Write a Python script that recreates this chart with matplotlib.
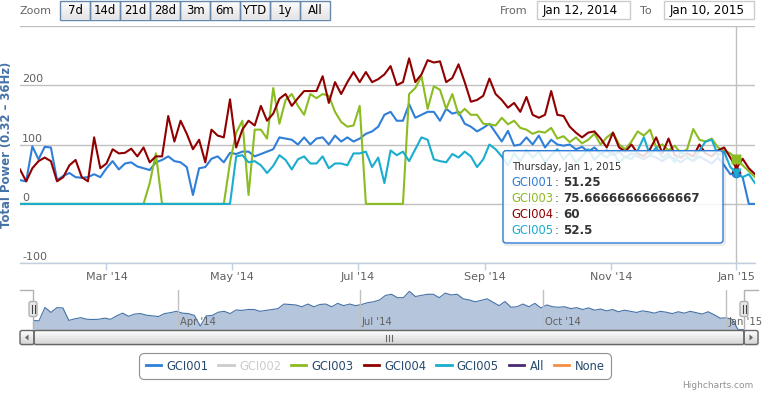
import numpy as np
import pandas as pd
import matplotlib
matplotlib.use('Agg')
import matplotlib.pyplot as plt
import matplotlib.dates as mdates
from matplotlib.patches import FancyBboxPatch, Rectangle, Polygon
from matplotlib.lines import Line2D
from matplotlib.transforms import blended_transform_factory, offset_copy

W, H, DPI = 762, 393, 100

# ---------------- data ----------------
start_date = '2014-01-18'
n_points = 120
step = '3D'

gci001 = [40, 38, 97, 75, 96, 95, 40, 47, 52, 45,
          44, 45, 50, 45, 60, 72, 58, 68, 70, 63,
          60, 57, 70, 74, 80, 72, 70, 62, 15, 60,
          62, 76, 80, 70, 86, 84, 88, 88, 80, 84,
          88, 92, 112, 110, 108, 100, 112, 100, 110, 112,
          100, 115, 105, 112, 105, 110, 118, 122, 130, 150,
          155, 140, 140, 168, 145, 150, 155, 155, 140, 160,
          152, 155, 135, 130, 122, 128, 135, 120, 105, 123,
          98, 100, 112, 100, 115, 95, 108, 100, 98, 100,
          92, 96, 88, 95, 85, 90, 82, 88, 78, 85,
          80, 75, 82, 78, 72, 80, 76, 70, 78, 72,
          80, 74, 68, 78, 65, 50, 51.25, 45, 0, 0]

gci003 = [0, 0, 0, 0, 0, 0, 0, 0, 0, 0,
          0, 0, 0, 0, 0, 0, 0, 0, 0, 0,
          0, 35, 85, 0, 0, 0, 0, 0, 0, 0,
          0, 0, 0, 0, 70, 120, 140, 15, 125, 125,
          110, 195, 135, 175, 185, 165, 150, 185, 178, 185,
          182, 155, 138, 130, 132, 165, 0, 0, 0, 0,
          0, 0, 0, 185, 195, 215, 160, 198, 192, 160,
          185, 150, 160, 150, 150, 135, 134, 132, 145, 134,
          140, 128, 125, 118, 122, 120, 128, 110, 114, 104,
          112, 102, 108, 118, 100, 112, 120, 100, 92, 105,
          122, 115, 125, 95, 100, 90, 98, 85, 92, 126,
          108, 105, 110, 95, 90, 85, 75.66666666666667, 65, 55, 45]

gci004 = [58, 38, 60, 72, 78, 72, 38, 45, 65, 74,
          45, 38, 112, 60, 68, 92, 85, 86, 93, 80,
          95, 70, 80, 80, 148, 105, 140, 118, 92, 108,
          70, 125, 115, 112, 176, 95, 125, 140, 132, 165,
          140, 152, 177, 185, 165, 178, 190, 190, 190, 215,
          170, 205, 185, 205, 222, 205, 222, 205, 210, 218,
          232, 200, 205, 245, 205, 218, 242, 238, 240, 205,
          212, 235, 205, 172, 175, 182, 211, 185, 175, 162,
          170, 155, 180, 150, 145, 150, 190, 150, 148, 130,
          120, 112, 120, 122, 110, 95, 120, 95, 88, 100,
          85, 80, 92, 112, 85, 110, 82, 78, 85, 80,
          100, 85, 80, 90, 95, 78, 60, 76, 60, 50]

gci005 = [0, 0, 0, 0, 0, 0, 0, 0, 0, 0,
          0, 0, 0, 0, 0, 0, 0, 0, 0, 0,
          0, 0, 0, 0, 0, 0, 0, 0, 0, 0,
          0, 0, 0, 0, 0, 80, 82, 70, 72, 65,
          52, 64, 82, 74, 58, 75, 80, 68, 68, 80,
          60, 68, 68, 65, 85, 85, 88, 62, 78, 35,
          90, 82, 88, 72, 92, 112, 108, 75, 72, 70,
          84, 78, 88, 80, 62, 75, 100, 92, 80, 65,
          85, 72, 90, 78, 88, 70, 82, 92, 75, 86,
          70, 80, 92, 74, 85, 78, 88, 70, 80, 75,
          90, 112, 82, 95, 78, 85, 70, 88, 80, 72,
          90, 105, 108, 82, 88, 62, 52.5, 45, 50, 35]

legend_names = ['GCI001', 'GCI002', 'GCI003', 'GCI004', 'GCI005', 'All', 'None']
legend_colors = ['#2f7ed8', '#0d233a', '#8bbc21', '#910000', '#1aadce', '#492970', '#f28f43']
hidden_series = ['GCI002']

x_tick_dates = ['2014-03-01', '2014-05-01', '2014-07-01', '2014-09-01', '2014-11-01', '2015-01-01']
x_tick_labels = ["Mar '14", "May '14", "Jul '14", "Sep '14", "Nov '14", "Jan '15"]
nav_tick_dates = ['2014-04-01', '2014-07-01', '2014-10-01', '2015-01-01']
nav_tick_labels = ["Apr '14", "Jul '14", "Oct '14", "Jan '15"]
y_ticks = [-100, 0, 100, 200, 300]
y_tick_labels = ['-100', '0', '100', '200']
y_title = 'Total Power (0.32 \u2013 36Hz)'
tooltip_date = '2015-01-01'
zoom_buttons = ['7d', '14d', '21d', '28d', '3m', '6m', 'YTD', '1y', 'All']
from_text = 'Jan 12, 2014'
to_text = 'Jan 10, 2015'

# ---------------- figure ----------------
plt.rcParams['font.family'] = ['DejaVu Sans']
dates = pd.date_range(start_date, periods=n_points, freq=step)
xd = mdates.date2num(dates.to_pydatetime())

fig = plt.figure(figsize=(W / DPI, H / DPI), dpi=DPI, facecolor='white')


def fr(x0, y0, x1, y1):
    return [x0 / W, 1 - y1 / H, (x1 - x0) / W, (y1 - y0) / H]


ax = fig.add_axes(fr(20, 25.7, 755, 263.3))
ax.set_zorder(1)
series = [('GCI001', gci001, '#2f7ed8', 'o', 7),
          ('GCI003', gci003, '#8bbc21', 's', 6.5),
          ('GCI004', gci004, '#910000', '^', 7),
          ('GCI005', gci005, '#1aadce', 'v', 7.5)]
for name, vals, col, mk, ms in series:
    ax.plot(xd, vals, color=col, lw=1.5, solid_joinstyle='round', zorder=2)

ax.set_xlim(xd[0], xd[-1])
ax.set_ylim(-100, 300)
ax.set_yticks(y_ticks)
ax.tick_params(axis='y', length=0, labelleft=False)
ax.yaxis.grid(True, color='#C0C0C0', lw=1)
ax.set_axisbelow(True)
for s in ['left', 'right', 'top']:
    ax.spines[s].set_visible(False)
ax.spines['bottom'].set_color('#C0D0E0')
ax.spines['bottom'].set_linewidth(1)
ax.spines['bottom'].set_zorder(3)
xt = mdates.date2num(pd.to_datetime(x_tick_dates).to_pydatetime())
ax.set_xticks(xt)
ax.set_xticklabels(x_tick_labels)
ax.tick_params(axis='x', length=5, width=1, color='#C0D0E0', labelcolor='#606060',
               labelsize=8, pad=1.5)

ytrans = offset_copy(blended_transform_factory(ax.transAxes, ax.transData), fig=fig,
                     x=2, y=3, units='dots')
for v, lab in zip(y_ticks, y_tick_labels):
    ax.text(0, v, lab, transform=ytrans, ha='left', va='baseline', color='#606060', fontsize=8)

tip = int(np.where(dates == pd.Timestamp(tooltip_date))[0][0])
ax.axvline(xd[tip], color='#C0C0C0', lw=1, zorder=1.5)
for name, vals, col, mk, ms in series:
    ax.plot([xd[tip]], [vals[tip]], marker=mk, ms=ms, color=col, mec='none', zorder=5,
            clip_on=False)

# ---------------- navigator ----------------
nav = fig.add_axes(fr(33, 289.5, 744, 329.5))
nav.set_zorder(1)
nav.fill_between(xd, gci001, 0, color='#b5c6dc', lw=0)
nav.plot(xd, gci001, color='#4572A7', lw=0.8)
nav.set_xlim(xd[0], xd[-1])
nav.set_ylim(0, 176)
nt = mdates.date2num(pd.to_datetime(nav_tick_dates).to_pydatetime())
nav.set_xticks(nt)
nav.set_yticks([])
nav.tick_params(axis='x', length=0, labelbottom=False)
nav.xaxis.grid(True, color='#C0C0C0', lw=1)
nav.set_axisbelow(False)
for s in nav.spines.values():
    s.set_visible(False)
ntrans = offset_copy(blended_transform_factory(nav.transData, nav.transAxes), fig=fig,
                     x=2, y=0, units='dots')
for t, lab in zip(nt, nav_tick_labels):
    nav.text(t, 0.19, lab, transform=ntrans, ha='left', va='center', color='#606060',
             fontsize=7.2, zorder=3, clip_on=False)

# ---------------- overlay ----------------
ov = fig.add_axes([0, 0, 1, 1])
ov.set_zorder(3)
ov.patch.set_alpha(0)
ov.axis('off')


def gradient_box(x0, y0, w, h, c0, c1, ec, r=0, lw=1, z=4):
    style = f'round,pad=0,rounding_size={r}' if r else 'square,pad=0'
    p = FancyBboxPatch((x0, y0), w, h, boxstyle=style, fc='none', ec=ec, lw=lw, zorder=z + 0.1)
    ov.add_patch(p)
    a = np.array(matplotlib.colors.to_rgb(c0))
    b = np.array(matplotlib.colors.to_rgb(c1))
    g = np.linspace(0, 1, 32)[:, None, None]
    img = a[None, None, :] * (1 - g) + b[None, None, :] * g
    im = ov.imshow(img, extent=(x0, x0 + w, y0 + h, y0), origin='upper', aspect='auto',
                   zorder=z, interpolation='bilinear')
    clip = FancyBboxPatch((x0, y0), w, h, boxstyle=style, transform=ov.transData)
    im.set_clip_path(clip)


# y axis title
ov.text(7, 145, y_title, rotation=90, ha='center', va='center', fontweight='bold',
        color='#4572A7', fontsize=8.4)

# range selector
ov.text(20, 11, 'Zoom', color='#666666', fontsize=8, va='center', ha='left')
for i, lab in enumerate(zoom_buttons):
    x0 = 60 + 30 * i
    gradient_box(x0, 0.5, 30, 19, '#ffffff', '#e4e4e4', '#6688AA')
    ov.text(x0 + 15, 10.5, lab, ha='center', va='center', fontsize=8.4, color='black', zorder=6)
ov.text(500, 11, 'From', color='#666666', fontsize=8, va='center', ha='left')
ov.add_patch(Rectangle((537.3, 0.7), 92.7, 18.3, fc='white', ec='#CCCCCC', lw=1))
ov.text(543, 10.5, from_text, fontsize=8.6, va='center', ha='left', color='black')
ov.text(640, 11, 'To', color='#666666', fontsize=8, va='center', ha='left')
ov.add_patch(Rectangle((664.3, 0.7), 89.7, 18.3, fc='white', ec='#CCCCCC', lw=1))
ov.text(670, 10.5, to_text, fontsize=8.6, va='center', ha='left', color='black')

# navigator outline + handles
ov.plot([20, 33, 33, 744, 744, 758], [289.5, 289.5, 329.5, 329.5, 289.5, 289.5],
        color='#b2b1b6', lw=1, zorder=4)
for hx in (33, 744):
    ov.add_patch(FancyBboxPatch((hx - 4, 301.5), 8, 15, boxstyle='round,pad=0,rounding_size=2',
                                fc='#ebe7e8', ec='#b2b1b6', lw=1, zorder=5))
    for dx in (-1.5, 1.5):
        ov.plot([hx + dx, hx + dx], [305, 313], color='#444444', lw=0.8, zorder=6)

# scrollbar
ov.add_patch(Rectangle((20, 330.5), 738, 14, fc='#eeeeee', ec='#eeeeee', lw=1, zorder=3.5))
gradient_box(34, 330.5, 710, 14, '#ffffff', '#d6d6d6', '#666666', r=2)
gradient_box(20, 330.5, 14, 14, '#ffffff', '#d6d6d6', '#666666', r=2)
gradient_box(744, 330.5, 14, 14, '#ffffff', '#d6d6d6', '#666666', r=2)
ov.add_patch(Polygon([(25, 337.5), (28.5, 334.5), (28.5, 340.5)], closed=True, fc='#666666',
                     ec='none', zorder=6))
ov.add_patch(Polygon([(753, 337.5), (749.5, 334.5), (749.5, 340.5)], closed=True, fc='#666666',
                     ec='none', zorder=6))
for gx in (386, 389, 392):
    ov.plot([gx, gx], [334.5, 340.5], color='#666666', lw=0.8, zorder=6)

# tooltip
ov.add_patch(FancyBboxPatch((504, 151.7), 220, 92.3, boxstyle='round,pad=0,rounding_size=3',
                            fc='none', ec='black', alpha=0.08, lw=3, zorder=4))
ov.add_patch(FancyBboxPatch((503, 150.7), 220, 92.3, boxstyle='round,pad=0,rounding_size=3',
                            fc=(1, 1, 1, 0.85), ec='#2f7ed8', lw=1, zorder=4.5))
d = dates[tip]
ov.text(511.7, 166.7, f"{d:%A}, {d:%b} {d.day}, {d.year}", fontsize=7.2, color='#333333',
        va='center', ha='left', zorder=6)


def fmt(v):
    return repr(v) if isinstance(v, float) else str(v)


for i, (name, vals, col, mk, ms) in enumerate(series):
    y = 182.7 + i * 15.8
    ov.text(511.7, y, name, color=col, fontsize=8.3, va='center', ha='left', zorder=6)
    ov.text(555, y, ':', color='#333333', fontsize=8.3, va='center', ha='left', zorder=6)
    ov.text(563.3, y, fmt(vals[tip]), color='#333333', fontsize=8.6, fontweight='bold',
            va='center', ha='left', zorder=6)

# credits
ov.text(753, 386, 'Highcharts.com', ha='right', va='center', fontsize=6.5, color='#909090')

ov.set_xlim(0, W)
ov.set_ylim(H, 0)

# legend
handles = []
for name, col in zip(legend_names, legend_colors):
    handles.append(Line2D([], [], color='#CCCCCC' if name in hidden_series else col, lw=2))
leg = fig.legend(handles, legend_names, loc='center', bbox_to_anchor=(375 / W, 1 - 366 / H),
                 ncol=7, fontsize=8.3, frameon=True, fancybox=True, edgecolor='#909090',
                 facecolor='white', framealpha=1, handlelength=1.35, handletextpad=0.45,
                 columnspacing=0.85, borderpad=0.55)
leg.get_frame().set_linewidth(0.8)
leg.get_frame().set_boxstyle('round', pad=0, rounding_size=0.45)
for txt, name in zip(leg.get_texts(), legend_names):
    txt.set_color('#CCCCCC' if name in hidden_series else '#274b6d')
leg.set_zorder(6)

fig.savefig('out.png', dpi=DPI, facecolor='white')
